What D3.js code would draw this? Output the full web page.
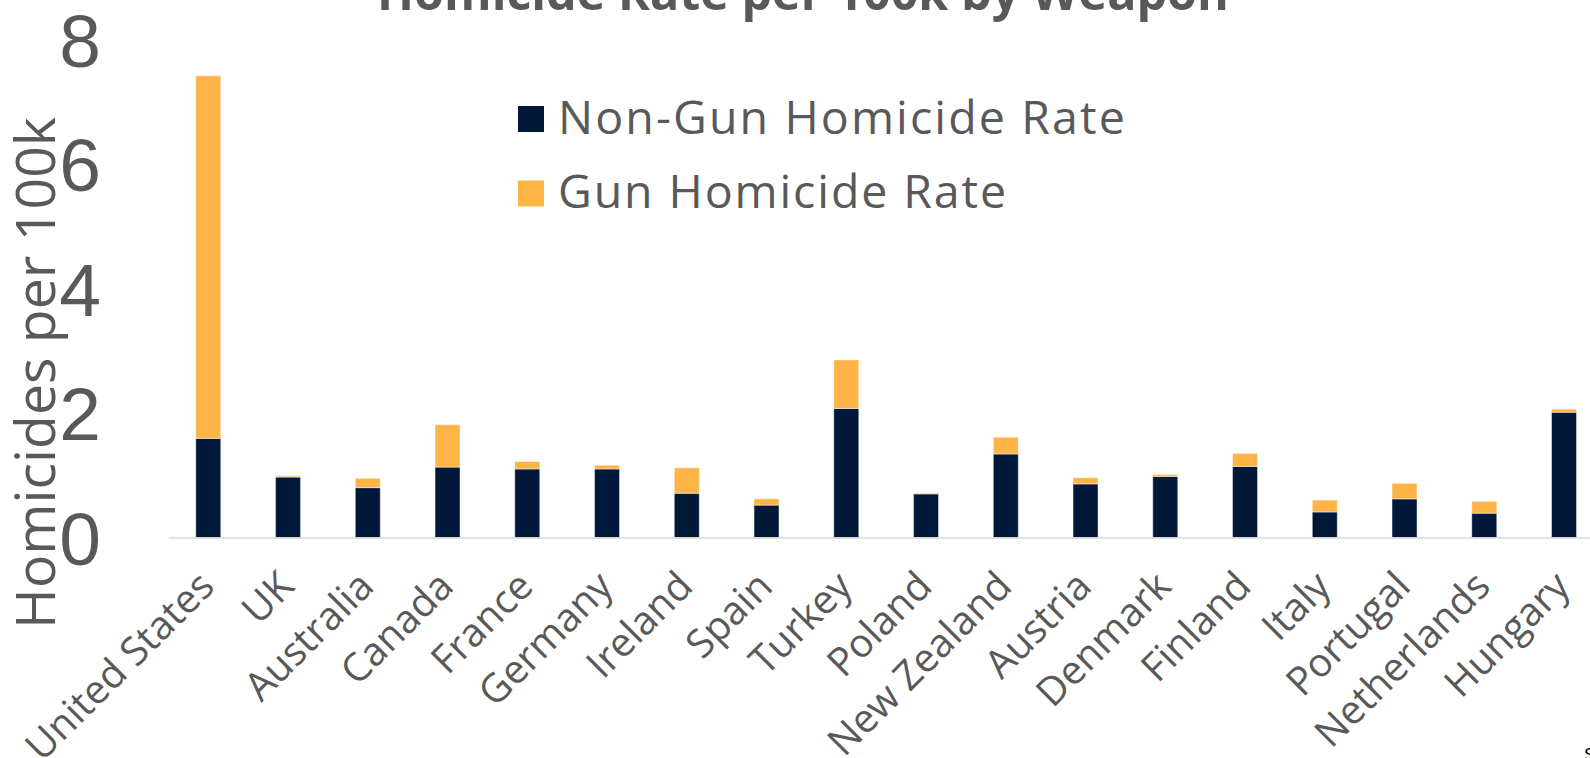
<!DOCTYPE html>
<html>
<head>
<meta charset="utf-8">
<script src="https://cdn.jsdelivr.net/npm/d3@7"></script>
<style>
  html, body { margin: 0; padding: 0; background: #ffffff; overflow: hidden; }
  svg { display: block; }
</style>
</head>
<body>
<svg id="chart" width="1590" height="758"></svg>
<script>
// ---- data ----
const countries = ["United States","UK","Australia","Canada","France","Germany","Ireland","Spain","Turkey","Poland","New Zealand","Austria","Denmark","Finland","Italy","Portugal","Netherlands","Hungary"];
const nonGunRate = [1.59,0.97,0.80,1.13,1.10,1.10,0.71,0.52,2.07,0.70,1.34,0.86,0.98,1.14,0.41,0.62,0.39,2.01];
const gunRate    = [5.82,0.02,0.15,0.68,0.12,0.06,0.41,0.10,0.78,0.01,0.27,0.10,0.03,0.21,0.19,0.25,0.19,0.05];
const yTicks = [0,2,4,6,8];
const seriesNames = ["Non-Gun Homicide Rate","Gun Homicide Rate"];
const titleText = "Homicide Rate per 100k by Weapon";
const yAxisTitle = "Homicides per 100k";
const sourceText = "Source";

// ---- styles ----
const colors = ["#011839", "#FFB447"];
const textColor = "#595959";

const svg = d3.select("#chart");

const x = d3.scaleBand().domain(countries).range([168.4, 1603.9]);
const y = d3.scaleLinear().domain([0, 8]).range([537.5, 39]);
const barW = 25;

const rows = countries.map((c, i) => ({country: c, nonGun: nonGunRate[i], gun: gunRate[i]}));
const stack = d3.stack().keys(["nonGun", "gun"])(rows);

// bars
const layers = svg.append("g").selectAll("g").data(stack).join("g")
  .attr("fill", (d, i) => colors[i]);
layers.selectAll("rect").data(d => d).join("rect")
  .attr("x", d => x(d.data.country) + x.bandwidth() / 2 - barW / 2)
  .attr("width", barW)
  .attr("y", d => y(d[1]))
  .attr("height", d => Math.max(0, y(d[0]) - y(d[1])))
  .attr("stroke", "rgba(255,255,255,0.45)")
  .attr("stroke-width", 1);

// x axis
const xAxis = svg.append("g")
  .attr("transform", `translate(0,${y(0)})`)
  .call(d3.axisBottom(x).tickSize(0).tickSizeOuter(0));
xAxis.select(".domain").attr("stroke", "#d9d9d9").attr("stroke-width", 1.5);
xAxis.selectAll("text")
  .attr("font-family", "'Open Sans', sans-serif")
  .attr("font-size", 39.5)
  .attr("fill", textColor)
  .attr("text-anchor", "end")
  .attr("dy", null)
  .attr("y", 0)
  .attr("transform", "translate(8,51) rotate(-45)");

// y axis (labels only)
const yAxis = svg.append("g")
  .attr("transform", "translate(101,0)")
  .call(d3.axisLeft(y).tickValues(yTicks).tickSize(0).tickPadding(0).tickFormat(d3.format("d")));
yAxis.select(".domain").remove();
yAxis.selectAll("text")
  .attr("font-family", "'Liberation Sans', Arial, sans-serif")
  .attr("font-size", 75)
  .attr("fill", textColor)
  .attr("dy", "0.36em");

// y axis title
const yt = svg.append("text")
  .attr("transform", "translate(55,373) rotate(-90)")
  .attr("text-anchor", "middle")
  .attr("font-family", "'Open Sans', sans-serif")
  .attr("font-size", 54)
  .attr("fill", textColor)
  .text(yAxisTitle);
fitWidth(yt, 512);

// title
const tt = svg.append("text")
  .attr("x", 803).attr("y", 10)
  .attr("text-anchor", "middle")
  .attr("font-family", "'Open Sans', sans-serif")
  .attr("font-weight", "bold")
  .attr("font-size", 48)
  .attr("fill", textColor)
  .text(titleText);
fitWidth(tt, 852);

// legend
const legend = svg.append("g");
const legY = [106, 180.5];
seriesNames.forEach((name, i) => {
  legend.append("rect")
    .attr("x", 518).attr("y", legY[i])
    .attr("width", 26).attr("height", 26)
    .attr("fill", colors[i]);
  const t = legend.append("text")
    .attr("x", 558).attr("y", legY[i] + 27.5)
    .attr("font-family", "'Open Sans', sans-serif")
    .attr("font-size", 46.5)
    .attr("fill", textColor)
    .text(name);
  fitSpacing(t, i === 0 ? 569 : 450);
});

// source (cut off at the corner)
svg.append("text")
  .attr("x", 1584).attr("y", 761)
  .attr("font-family", "'Liberation Sans', Arial, sans-serif")
  .attr("font-size", 18)
  .attr("fill", "#000")
  .text(sourceText);

function fitWidth(sel, target) {
  const w = sel.node().getComputedTextLength();
  const fs = +sel.attr("font-size");
  if (w > 0) sel.attr("font-size", fs * target / w);
}
function fitSpacing(sel, target) {
  const w = sel.node().getComputedTextLength();
  const n = sel.text().length;
  if (w > 0) sel.attr("letter-spacing", (target - w) / n);
}
</script>
</body>
</html>
